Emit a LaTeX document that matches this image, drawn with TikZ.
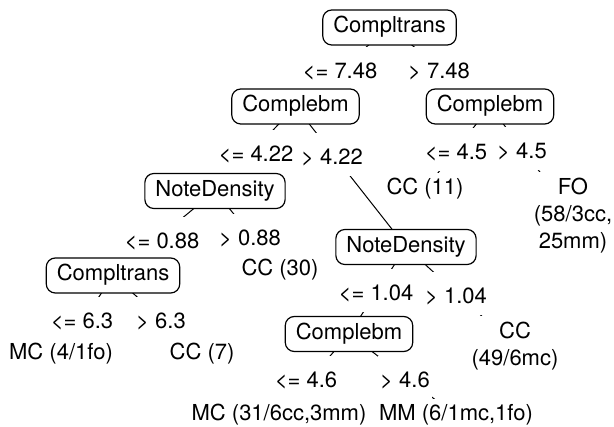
\documentclass[tikz,border=0pt]{standalone}
\usepackage{fontspec}
\setmainfont{TeX Gyre Heros}
\usetikzlibrary{backgrounds}
\begin{document}
\begin{tikzpicture}[x=1pt,y=-1pt,
  every node/.style={font=\fontsize{22}{27}\selectfont},
  split/.style={draw, rounded corners=9pt, fill=white, line width=1.2pt,
    inner xsep=10.5pt, inner ysep=7pt, text height=16pt, text depth=5pt, minimum height=35pt},
  cond/.style={fill=white, inner xsep=2pt, inner ysep=7pt, text height=24pt, text depth=5pt},
  leaf/.style={fill=white, inner xsep=3pt, inner ysep=6pt, text height=16pt, text depth=5pt},
  leafm/.style={fill=white, inner xsep=3pt, inner ysep=6pt, align=center},
  edge/.style={line width=1pt}]
\useasboundingbox (0,0) rectangle (614,427);
% condition labels
\node[cond] (l1) at (340,69) {<= 7.48};
\node[cond] (l2) at (439,69) {> 7.48};
\node[cond] (l3) at (256,152) {<= 4.22};
\node[cond] (l4) at (332,155) {> 4.22};
\node[cond] (l5) at (456,150) {<= 4.5};
\node[cond] (l6) at (522,149) {> 4.5};
\node[cond] (l7) at (162,239) {<= 0.88};
\node[cond] (l8) at (250,236) {> 0.88};
\node[cond] (l9) at (82,319) {<= 6.3};
\node[cond] (l10) at (161,319) {> 6.3};
\node[cond] (l11) at (376,291) {<= 1.04};
\node[cond] (l12) at (456,294) {> 1.04};
\node[cond] (l13) at (306,378) {<= 4.6};
\node[cond] (l14) at (405,378) {> 4.6};
% split nodes
\node[split] (r) at (389.5,27.5) {Compltrans};
\node[split] (a) at (295.5,106.5) {Complebm};
\node[split] (b) at (490,106.5) {Complebm};
\node[split] (c) at (215,191) {NoteDensity};
\node[split] (d) at (406,247) {NoteDensity};
\node[split] (e) at (113,275.5) {Compltrans};
\node[split] (f) at (349,334) {Complebm};
% leaves
\node[leaf] (cc11) at (425,189.5) {CC (11)};
\node[leafm] (fo) at (573,215.5) {FO\\(58/3cc,\\25mm)};
\node[leaf] (cc30) at (280,270.5) {CC (30)};
\node[leafm] (cc49) at (515,346.5) {CC\\(49/6mc)};
\node[leaf] (mc4) at (61,354.5) {MC (4/1fo)};
\node[leaf] (cc7) at (202,354.5) {CC (7)};
\node[leaf] (mc31) at (279,415.5) {MC (31/6cc,3mm)};
\node[leaf] (mm6) at (456,415.5) {MM (6/1mc,1fo)};
% edges
\begin{pgfonlayer}{background}
\draw[edge] (r.center) -- (a.center);
\draw[edge] (r.center) -- (b.center);
\draw[edge] (a.center) -- (c.center);
\draw[edge] (a.center) -- (d.center);
\draw[edge] (b.center) -- (cc11.center);
\draw[edge] (b.center) -- (fo.center);
\draw[edge] (c.center) -- (e.center);
\draw[edge] (c.center) -- (cc30.center);
\draw[edge] (d.center) -- (f.center);
\draw[edge] (d.center) -- (cc49.center);
\draw[edge] (e.center) -- (mc4.center);
\draw[edge] (e.center) -- (cc7.center);
\draw[edge] (f.center) -- (mc31.center);
\draw[edge] (f.center) -- (mm6.center);
\end{pgfonlayer}
\end{tikzpicture}
\end{document}
